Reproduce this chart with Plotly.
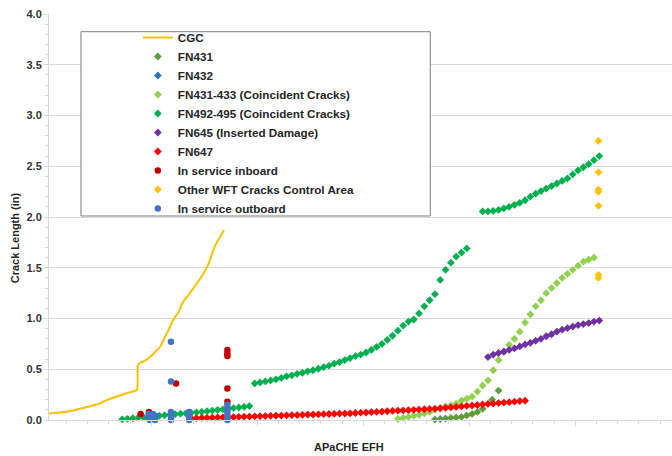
import plotly.graph_objects as go

# ---------------- data (x in thousands of EFH, unlabeled axis) ----------------
CGC_X = [0.0, 0.57, 1.18, 1.75, 2.45, 2.78, 3.25, 3.73, 4.20, 4.23, 4.34, 4.58, 4.81, 5.05, 5.28,
         5.42, 5.61, 5.75, 5.90, 6.13, 6.37, 6.70, 7.03, 7.26, 7.50, 7.64, 7.78, 7.97, 8.11, 8.30]
CGC_Y = [0.064, 0.074, 0.094, 0.123, 0.163, 0.197, 0.232, 0.266, 0.296, 0.53, 0.561, 0.586, 0.621, 0.670, 0.719,
         0.778, 0.857, 0.916, 0.985, 1.054, 1.163, 1.251, 1.350, 1.419, 1.507, 1.576, 1.665, 1.754, 1.803, 1.872]

FN431_X = [18.25, 18.5, 18.75, 19.0, 19.25, 19.5, 19.75, 20.0, 20.25, 20.5, 20.95, 21.25]
FN431_Y = [0.005, 0.01, 0.015, 0.02, 0.025, 0.03, 0.045, 0.06, 0.08, 0.11, 0.20, 0.29]

FN432_X = [4.9, 5.0]
FN432_Y = [0.02, 0.03]

FN431_433_X = [16.5, 16.75, 17.0, 17.25, 17.5, 17.75, 18.0, 18.25, 18.5, 18.75, 19.0, 19.25, 19.5,
               19.75, 20.0, 20.25, 20.5, 20.75, 21.0, 21.25, 21.5, 21.75, 22.0, 22.25, 22.5, 22.75,
               23.0, 23.25, 23.5, 23.75, 24.0, 24.25, 24.5, 24.75, 25.0, 25.25, 25.5, 25.75]
FN431_433_Y = [0.01, 0.02, 0.03, 0.04, 0.05, 0.065, 0.08, 0.10, 0.12, 0.135, 0.145, 0.16, 0.19,
               0.21, 0.23, 0.28, 0.34, 0.39, 0.49, 0.59, 0.67, 0.74, 0.80, 0.87, 0.96, 1.04,
               1.12, 1.18, 1.25, 1.30, 1.35, 1.40, 1.44, 1.48, 1.52, 1.56, 1.58, 1.60]

FN492_495_X = [3.5, 3.75, 4.0, 4.25, 4.5, 4.75, 5.0, 5.25, 5.5, 5.75, 6.0, 6.25, 6.5, 6.75, 7.0,
               7.25, 7.5, 7.75, 8.0, 8.25, 8.5, 8.75, 9.0, 9.25, 9.5,
               9.75, 10.0, 10.25, 10.5, 10.75, 11.0, 11.25, 11.5, 11.75, 12.0, 12.25, 12.5, 12.75,
               13.0, 13.25, 13.5, 13.75, 14.0, 14.25, 14.5, 14.75, 15.0, 15.25, 15.5, 15.75, 16.0,
               16.25, 16.5, 16.75, 17.0, 17.25, 17.5, 17.75, 18.0, 18.25, 18.5, 18.75, 19.0, 19.25,
               19.5, 19.75,
               20.5, 20.75, 21.0, 21.25, 21.5, 21.75, 22.0, 22.25, 22.5, 22.75, 23.0, 23.25, 23.5,
               23.75, 24.0, 24.25, 24.5, 24.75, 25.0, 25.25, 25.5, 25.75, 26.0]
FN492_495_Y = [0.007, 0.012, 0.017, 0.022, 0.027, 0.032, 0.037, 0.042, 0.047, 0.052, 0.057, 0.062, 0.066, 0.071, 0.076,
               0.081, 0.087, 0.093, 0.099, 0.105, 0.111, 0.117, 0.123, 0.130, 0.137,
               0.36, 0.37, 0.38, 0.39, 0.40, 0.415, 0.43, 0.44, 0.455, 0.465, 0.48, 0.49, 0.505,
               0.52, 0.535, 0.555, 0.57, 0.59, 0.61, 0.63, 0.645, 0.665, 0.69, 0.72, 0.75, 0.79,
               0.83, 0.88, 0.93, 0.97, 0.99, 1.05, 1.12, 1.18, 1.24, 1.38, 1.48, 1.55, 1.61,
               1.65, 1.69,
               2.055, 2.055, 2.06, 2.07, 2.085, 2.10, 2.12, 2.14, 2.165, 2.20, 2.23, 2.255, 2.28,
               2.305, 2.33, 2.355, 2.38, 2.42, 2.46, 2.49, 2.52, 2.56, 2.60]

FN645_X = [20.75, 21.0, 21.25, 21.5, 21.75, 22.0, 22.25, 22.5, 22.75, 23.0, 23.25, 23.5, 23.75,
           24.0, 24.25, 24.5, 24.75, 25.0, 25.25, 25.5, 25.75, 26.0]
FN645_Y = [0.62, 0.645, 0.66, 0.675, 0.69, 0.705, 0.725, 0.745, 0.76, 0.78, 0.80, 0.825, 0.845,
           0.87, 0.89, 0.905, 0.92, 0.935, 0.945, 0.955, 0.97, 0.98]

FN647_X = [6.75, 7.0, 7.25, 7.5, 7.75, 8.0, 8.25, 8.5, 8.75, 9.0, 9.25, 9.5, 9.75, 10.0, 10.25,
           10.5, 10.75, 11.0, 11.25, 11.5, 11.75, 12.0, 12.25, 12.5, 12.75, 13.0, 13.25, 13.5,
           13.75, 14.0, 14.25, 14.5, 14.75, 15.0, 15.25, 15.5, 15.75, 16.0, 16.25, 16.5, 16.75,
           17.0, 17.25, 17.5, 17.75, 18.0, 18.25, 18.5, 18.75, 19.0, 19.25, 19.5, 19.75, 20.0,
           20.25, 20.5, 20.75, 21.0, 21.25, 21.5, 21.75, 22.0, 22.25, 22.5]
FN647_Y = [0.017, 0.018, 0.020, 0.021, 0.023, 0.025, 0.026, 0.028, 0.029, 0.031, 0.033, 0.034, 0.036, 0.038, 0.039,
           0.041, 0.043, 0.044, 0.046, 0.048, 0.049, 0.051, 0.053, 0.054, 0.056, 0.058, 0.059, 0.061,
           0.063, 0.064, 0.066, 0.069, 0.072, 0.074, 0.077, 0.080, 0.083, 0.086, 0.089, 0.092, 0.094,
           0.097, 0.100, 0.103, 0.106, 0.109, 0.112, 0.115, 0.120, 0.124, 0.129, 0.134, 0.139, 0.143,
           0.148, 0.153, 0.158, 0.162, 0.167, 0.172, 0.176, 0.181, 0.186, 0.190]

INBOARD_X = [4.37, 4.76, 6.04, 8.46, 8.46, 8.46, 8.46, 8.46]
INBOARD_Y = [0.06, 0.08, 0.36, 0.69, 0.655, 0.63, 0.31, 0.18]

OTHER_X = [25.96, 25.96, 25.96, 25.96, 25.96, 25.96, 25.96]
OTHER_Y = [2.75, 2.44, 2.27, 2.25, 2.11, 1.43, 1.40]

OUTBOARD_X = [4.70, 4.80, 4.90, 5.00, 5.10, 4.85, 5.05, 4.75, 4.95,
              5.80, 5.80, 5.80, 5.80, 5.80, 5.80, 5.80,
              6.66, 6.66, 6.66, 6.66,
              8.46, 8.46, 8.46, 8.46, 8.46, 8.46]
OUTBOARD_Y = [0.02, 0.0, 0.03, 0.01, 0.04, 0.05, 0.0, 0.06, 0.06,
              0.77, 0.38, 0.0, 0.02, 0.04, 0.06, 0.08,
              0.0, 0.03, 0.06, 0.08,
              0.0, 0.03, 0.06, 0.09, 0.12, 0.15]

FONT = "Arial, Liberation Sans, sans-serif"

fig = go.Figure()

fig.add_trace(go.Scatter(x=CGC_X, y=CGC_Y, mode="lines", name="CGC",
                         line=dict(color="#FFC000", width=2, shape="spline", smoothing=0.4),
                         cliponaxis=False))


def pts(x, y, name, color, symbol="diamond", size=6):
    fig.add_trace(go.Scatter(x=x, y=y, mode="markers", name=name, cliponaxis=False,
                             marker=dict(color=color, symbol=symbol, size=size, line=dict(width=0))))


pts(FN431_X, FN431_Y, "FN431", "#5E9E3A")
pts(FN432_X, FN432_Y, "FN432", "#2E75B6")
pts(FN431_433_X, FN431_433_Y, "FN431-433 (Coincident Cracks)", "#92D050")
pts(FN492_495_X, FN492_495_Y, "FN492-495 (Coincident Cracks)", "#00B050")
pts(FN645_X, FN645_Y, "FN645 (Inserted Damage)", "#7030A0")
pts(FN647_X, FN647_Y, "FN647", "#FF0000")
pts(INBOARD_X, INBOARD_Y, "In service inboard", "#C00000", symbol="circle", size=6.5)
pts(OTHER_X, OTHER_Y, "Other WFT Cracks Control Area", "#FFC000", size=6)
pts(OUTBOARD_X, OUTBOARD_Y, "In service outboard", "#4472C4", symbol="circle", size=6.5)

fig.update_layout(
    width=672, height=456,
    margin=dict(l=49, r=0, t=14, b=36),
    paper_bgcolor="white", plot_bgcolor="white",
    font=dict(family=FONT, size=11, color="#333333"),
    showlegend=True,
    legend=dict(x=0.1426, y=0.9778, xanchor="left", yanchor="top",
                bgcolor="rgba(0,0,0,0)", borderwidth=0, tracegroupgap=0,
                font=dict(family=FONT, size=11.7, color="#262626", weight="bold")),
    xaxis=dict(range=[0.047, 29.43], showgrid=False, zeroline=False,
               showline=True, linecolor="#d9d9d9", linewidth=1,
               showticklabels=False, ticks="outside", ticklen=5, tickcolor="#d9d9d9",
               tick0=-0.13, dtick=5,
               minor=dict(ticks="outside", ticklen=3, tickcolor="#d9d9d9", dtick=1, tick0=-0.13,
                          showgrid=False)),
    yaxis=dict(range=[0, 4], dtick=0.5, tickformat=".1f", showgrid=True, gridcolor="#d9d9d9",
               gridwidth=1, zeroline=False, showline=True, linecolor="#d9d9d9", linewidth=1,
               ticks="outside", ticklen=4, tickcolor="#d9d9d9",
               tickfont=dict(family=FONT, size=11, color="#333333", weight="bold"),
               minor=dict(ticks="outside", ticklen=3, tickcolor="#d9d9d9", dtick=0.1, showgrid=False)),
    shapes=[dict(type="rect", xref="paper", yref="paper", x0=0.0513, x1=0.612, y0=0.5025, y1=0.9564,
                 line=dict(color="#7f7f7f", width=1), fillcolor="white", layer="above")],
    annotations=[
        dict(text="Crack Length (in)", textangle=-90, xref="paper", yref="paper",
             x=-0.0546, y=0.45, xanchor="center", yanchor="middle", showarrow=False,
             font=dict(family=FONT, size=11, color="#262626", weight="bold")),
        dict(text="APaCHE EFH", xref="paper", yref="paper", x=0.4815, y=-0.0665,
             xanchor="center", yanchor="middle", showarrow=False,
             font=dict(family=FONT, size=11, color="#262626", weight="bold")),
    ],
)

fig.write_html("out.html", config={"displayModeBar": False},
               post_script="document.body.style.margin='0';")
